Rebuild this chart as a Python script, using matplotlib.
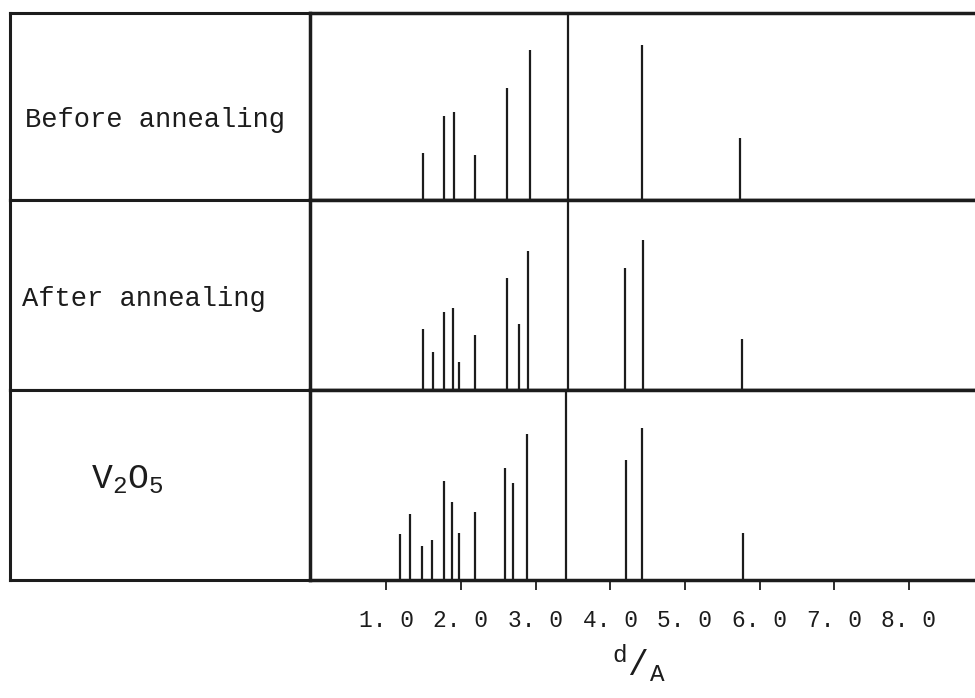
import matplotlib
matplotlib.use("Agg")
import matplotlib.pyplot as plt

plt.rcParams["font.family"] = ["Liberation Mono", "DejaVu Sans"]
plt.rcParams["mathtext.fontset"] = "custom"
plt.rcParams["mathtext.rm"] = "Liberation Mono"
plt.rcParams["mathtext.it"] = "Liberation Mono"

# Row labels, top to bottom
samples = ["Before annealing", "After annealing", "V$_2$O$_5$"]

# d-spacings (Angstrom) and relative line intensities (100 = full panel)
d_before = [1.49, 1.78, 1.91, 2.19, 2.62, 2.92, 3.43, 4.42, 5.74]
i_before = [25, 45, 47, 24, 60, 80, 100, 83, 33]

d_after = [1.49, 1.625, 1.77, 1.90, 1.98, 2.19, 2.62, 2.78, 2.905, 3.43, 4.20, 4.44, 5.76]
i_after = [32, 20, 41, 43, 15, 29, 59, 35, 73, 100, 64, 79, 27]

d_v2o5 = [1.19, 1.32, 1.48, 1.62, 1.77, 1.88, 1.98, 2.195, 2.59, 2.70, 2.89, 3.41, 4.21, 4.42, 5.775]
i_v2o5 = [24, 35, 18, 21, 52, 41, 25, 36, 59, 51, 77, 100, 63, 80, 25]

d_sets = [d_before, d_after, d_v2o5]
i_sets = [i_before, i_after, i_v2o5]

tick_vals = [1, 2, 3, 4, 5, 6, 7, 8]
tick_labels = ["1. 0", "2. 0", "3. 0", "4. 0", "5. 0", "6. 0", "7. 0", "8. 0"]

W, H = 975, 698
ink = "#1c1c1c"
fig = plt.figure(figsize=(W / 100, H / 100), dpi=100)

# row boundaries in pixels (from the top)
rows = [(13, 200), (200, 390), (390, 580)]
x_left, x_mid, x_right = 10, 310, 975

# where each label sits inside its box (axes fraction), and its size
label_pos = [(0.05, 0.43, "left", 19.5), (0.04, 0.48, "left", 19.5),
             (0.39, 0.53, "center", 25)]

for k, (y0, y1) in enumerate(rows):
    bottom = 1 - y1 / H
    height = (y1 - y0) / H

    lab = fig.add_axes([x_left / W, bottom, (x_mid - x_left) / W, height])
    lab.set_xticks([])
    lab.set_yticks([])
    lab.spines["right"].set_visible(False)
    for s in ["left", "top", "bottom"]:
        lab.spines[s].set_linewidth(2.2)
        lab.spines[s].set_color(ink)
    lx, ly, ha, fs = label_pos[k]
    lab.text(lx, ly, samples[k], transform=lab.transAxes, ha=ha, va="center",
             fontsize=fs, color=ink)

    ax = fig.add_axes([x_mid / W, bottom, (x_right - x_mid) / W, height])
    ax.vlines(d_sets[k], 0, i_sets[k], color=ink, lw=1.6)
    ax.set_xlim(-0.02, 8.885)
    ax.set_ylim(0, 100)
    ax.set_yticks([])
    ax.spines["right"].set_visible(False)
    for s in ["left", "top", "bottom"]:
        ax.spines[s].set_linewidth(2.5)
        ax.spines[s].set_color(ink)

    if k < 2:
        ax.set_xticks([])
    else:
        ax.xaxis.set_major_locator(plt.FixedLocator(tick_vals))
        ax.xaxis.set_major_formatter(plt.FixedFormatter(tick_labels))
        ax.tick_params(axis="x", direction="out", length=7, width=1.3,
                       color=ink, pad=14, labelsize=16.5, labelcolor=ink)
        ax.set_xlabel(r"$^{d}/_{\mathrm{A}}$", fontsize=25, color=ink)
        ax.xaxis.set_label_coords(0.495, -0.33)

fig.savefig("out.png", dpi=100, facecolor="white")
